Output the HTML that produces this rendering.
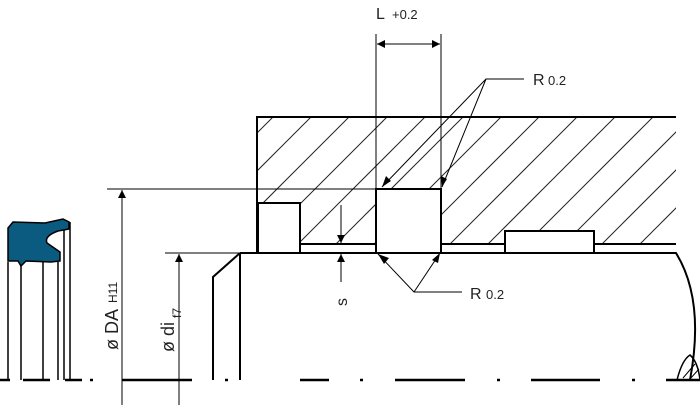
<!DOCTYPE html>
<html><head><meta charset="utf-8"><style>body{margin:0;background:#fff}svg{display:block}</style></head><body>
<svg width="700" height="405" viewBox="0 0 700 405" xmlns="http://www.w3.org/2000/svg" font-family="Liberation Sans, sans-serif">
<defs>
<clipPath id="hc"><rect x="258" y="117" width="418" height="127"/></clipPath>
<marker id="ar" viewBox="0 0 10 10" refX="10" refY="5" markerWidth="12" markerHeight="8" markerUnits="userSpaceOnUse" orient="auto-start-reverse"><path d="M0,0 L10,5 L0,10 z" fill="#000"/></marker>
</defs>
<g clip-path="url(#hc)" stroke="#222" stroke-width="1">
<line x1="140" y1="250" x2="280" y2="110"/><line x1="178" y1="250" x2="318" y2="110"/><line x1="216" y1="250" x2="356" y2="110"/><line x1="254" y1="250" x2="394" y2="110"/><line x1="292" y1="250" x2="432" y2="110"/><line x1="330" y1="250" x2="470" y2="110"/><line x1="368" y1="250" x2="508" y2="110"/><line x1="406" y1="250" x2="546" y2="110"/><line x1="444" y1="250" x2="584" y2="110"/><line x1="482" y1="250" x2="622" y2="110"/><line x1="520" y1="250" x2="660" y2="110"/><line x1="558" y1="250" x2="698" y2="110"/><line x1="596" y1="250" x2="736" y2="110"/><line x1="634" y1="250" x2="774" y2="110"/><line x1="672" y1="250" x2="812" y2="110"/>
</g>
<g fill="#fff" stroke="#000" stroke-width="2">
<rect x="258" y="203" width="42" height="50"/>
<path d="M376,253 L376,189 L441,189 L441,253"/>
<rect x="505" y="231" width="89" height="22"/>
</g>
<g fill="none" stroke="#000" stroke-width="2">
<path d="M676,117 L257,117 L257,253"/>
<line x1="300" y1="244" x2="376" y2="244"/>
<line x1="441" y1="244" x2="505" y2="244"/>
<line x1="594" y1="244" x2="676" y2="244"/>
<path d="M240,253 L676,253 Q705,300 690,380"/>
<path d="M240,253 L240,380 M240,253 L213,277 L213,380"/>
<g stroke-width="2.5">
<line x1="122" y1="380" x2="192" y2="380"/>
<line x1="300" y1="380" x2="329" y2="380"/><line x1="360" y1="380" x2="363" y2="380"/>
<line x1="395" y1="380" x2="465" y2="380"/><line x1="497" y1="380" x2="500" y2="380"/>
<line x1="531" y1="380" x2="600" y2="380"/><line x1="632" y1="380" x2="635" y2="380"/>
<line x1="666" y1="380" x2="700" y2="380"/>
<line x1="225" y1="380" x2="228" y2="380"/><line x1="90" y1="380" x2="93" y2="380"/>
<line x1="0" y1="380" x2="10" y2="380"/><line x1="23" y1="380" x2="50" y2="380"/><line x1="65" y1="380" x2="82" y2="380"/>
</g>
</g>
<path d="M677,380 Q682,360 690,355 Q698,362 700,380" fill="none" stroke="#000" stroke-width="1.5"/>
<line x1="683" y1="378" x2="695" y2="364" stroke="#000"/><line x1="690" y1="379" x2="699" y2="369" stroke="#000"/>
<g stroke="#000" stroke-width="1.5" fill="none">
<line x1="8" y1="262" x2="8" y2="380"/><line x1="21" y1="264" x2="21" y2="380"/>
<line x1="43" y1="262" x2="43" y2="380"/><line x1="58" y1="262" x2="58" y2="380"/>
<line x1="64" y1="230" x2="64" y2="380"/><line x1="70" y1="222" x2="70" y2="380"/>
</g>
<path d="M8,228 L13,222 L45,223 L63,219 L69,222 L69,229 L58,231 Q44,236 47,243 L60,252 L60,261 L51,262 L26,261 L21,266 L18,261 L8,261 Z" fill="#0b5a7f" stroke="#000" stroke-width="1.5"/>
<g stroke="#000" stroke-width="1" fill="none">
<line x1="107" y1="189" x2="376" y2="189"/>
<line x1="122" y1="190" x2="122" y2="405" marker-start="url(#ar)"/>
<line x1="165" y1="253" x2="240" y2="253"/>
<line x1="179" y1="254" x2="179" y2="405" marker-start="url(#ar)"/>
<line x1="376" y1="34" x2="376" y2="189"/><line x1="441" y1="34" x2="441" y2="189"/>
<line x1="377" y1="44" x2="440" y2="44" marker-start="url(#ar)" marker-end="url(#ar)"/>
<path d="M524,79 L486,79 L382,187 M486,79 L442,187"/>
<path d="M462,292 L414,292 L378,254 M414,292 L440,253"/>
<line x1="341" y1="205" x2="341" y2="243" marker-end="url(#ar)"/>
<line x1="341" y1="282" x2="341" y2="254" marker-end="url(#ar)"/>
</g>
<path d="M382,187 L386,176 L391,181 Z M442,187 L441,176 L447,179 Z M378,254 L389,258 L384,264 Z M440,253 L438,263 L432,260 Z" fill="#000"/>
<g fill="#222">
<text x="376" y="19" font-size="16">L</text><text x="392" y="19" font-size="13">+0.2</text>
<text x="533" y="85" font-size="16">R</text><text x="548" y="85" font-size="13">0.2</text>
<text x="470" y="299" font-size="16">R</text><text x="486" y="299" font-size="13">0.2</text>
<text transform="translate(347,306) rotate(-90)" font-size="16">s</text>
<text transform="translate(118,350) rotate(-90)" font-size="18">ø DA</text>
<text transform="translate(117,303) rotate(-90)" font-size="12">H11</text>
<text transform="translate(174,352) rotate(-90)" font-size="18">ø di</text>
<text transform="translate(181,318) rotate(-90)" font-size="12">f7</text>
</g>
</svg>
</body></html>
